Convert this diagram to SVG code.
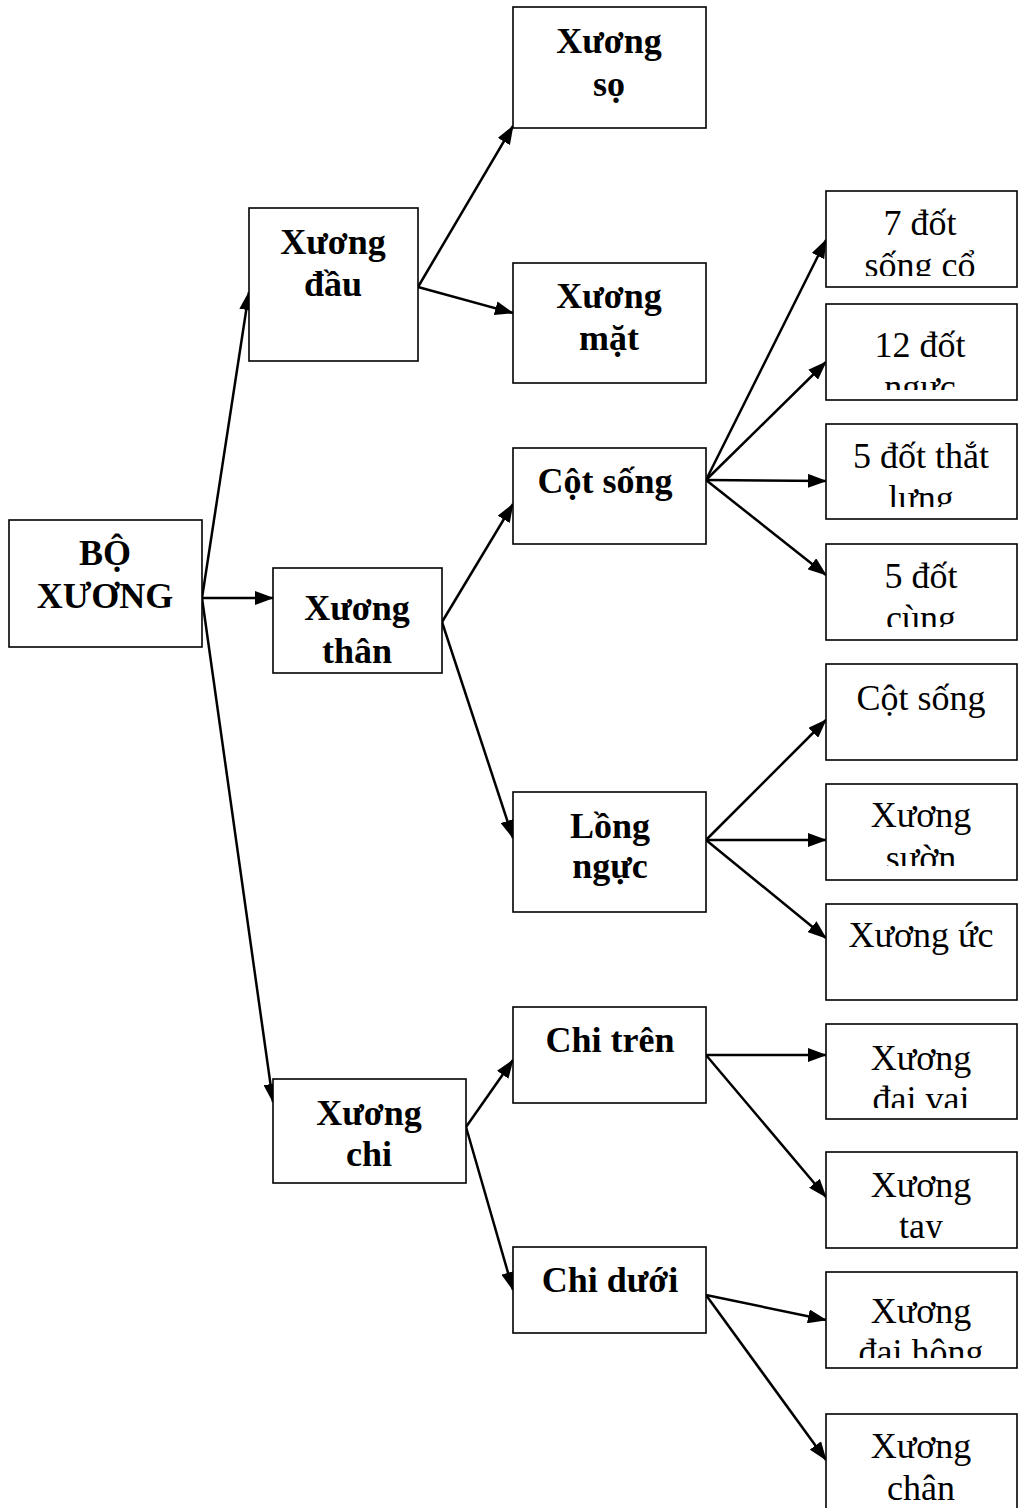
<svg xmlns="http://www.w3.org/2000/svg" width="1018" height="1508" viewBox="0 0 1018 1508">
  <style>
    .box { fill: #ffffff; stroke: #000000; stroke-width: 1.6; }
    .link { fill: none; stroke: #000000; stroke-width: 2.5; marker-end: url(#arrow); }
    .b { font-family: "Liberation Serif", "Times New Roman", serif; font-weight: bold; font-size: 36px; text-anchor: middle; fill: #000; }
    .r { font-family: "Liberation Serif", "Times New Roman", serif; font-size: 36px; text-anchor: middle; fill: #000; }
  </style>
  <defs>
    <marker id="arrow" viewBox="0 0 19 14" refX="18" refY="7" markerWidth="19" markerHeight="14" markerUnits="userSpaceOnUse" orient="auto">
      <path d="M0,0 L19,7 L0,14 Z" fill="#000"/>
    </marker>
    <clipPath id="c-co" clipPathUnits="userSpaceOnUse"><rect x="827" y="192" width="189" height="84"/></clipPath>
    <clipPath id="c-nguc" clipPathUnits="userSpaceOnUse"><rect x="827" y="305" width="189" height="85"/></clipPath>
    <clipPath id="c-lung" clipPathUnits="userSpaceOnUse"><rect x="827" y="425" width="189" height="82"/></clipPath>
    <clipPath id="c-cung" clipPathUnits="userSpaceOnUse"><rect x="827" y="545" width="189" height="82"/></clipPath>
    <clipPath id="c-suon" clipPathUnits="userSpaceOnUse"><rect x="827" y="785" width="189" height="81"/></clipPath>
    <clipPath id="c-vai" clipPathUnits="userSpaceOnUse"><rect x="827" y="1025" width="189" height="83"/></clipPath>
    <clipPath id="c-tay" clipPathUnits="userSpaceOnUse"><rect x="827" y="1153" width="189" height="85"/></clipPath>
    <clipPath id="c-hong" clipPathUnits="userSpaceOnUse"><rect x="827" y="1273" width="189" height="85"/></clipPath>
  </defs>

  <rect width="1018" height="1508" fill="#ffffff"/>

  <!-- arrows between boxes -->
  <g id="connectors">
    <line class="link" x1="202" y1="598" x2="249" y2="292"/>
    <line class="link" x1="202" y1="598" x2="273" y2="598"/>
    <line class="link" x1="202" y1="598" x2="273" y2="1102"/>
    <line class="link" x1="418" y1="287" x2="513" y2="126"/>
    <line class="link" x1="418" y1="287" x2="513" y2="313"/>
    <line class="link" x1="442" y1="622" x2="513" y2="504"/>
    <line class="link" x1="442" y1="622" x2="513" y2="838"/>
    <line class="link" x1="706" y1="480" x2="826" y2="240"/>
    <line class="link" x1="706" y1="480" x2="826" y2="362"/>
    <line class="link" x1="706" y1="480" x2="826" y2="481"/>
    <line class="link" x1="706" y1="480" x2="826" y2="575"/>
    <line class="link" x1="706" y1="840" x2="826" y2="720"/>
    <line class="link" x1="706" y1="840" x2="826" y2="840"/>
    <line class="link" x1="706" y1="840" x2="826" y2="938"/>
    <line class="link" x1="466" y1="1127" x2="513" y2="1060"/>
    <line class="link" x1="466" y1="1127" x2="513" y2="1290"/>
    <line class="link" x1="706" y1="1055" x2="826" y2="1055"/>
    <line class="link" x1="706" y1="1055" x2="826" y2="1197"/>
    <line class="link" x1="706" y1="1295" x2="826" y2="1320"/>
    <line class="link" x1="706" y1="1295" x2="826" y2="1460"/>
  </g>

  <!-- root -->
  <g id="bo-xuong">
    <rect class="box" x="9" y="520" width="193" height="127"/>
    <text class="b" x="105" y="565">BỘ</text>
    <text class="b" x="105" y="608">XƯƠNG</text>
  </g>

  <!-- level 1 -->
  <g id="xuong-dau">
    <rect class="box" x="249" y="208" width="169" height="153"/>
    <text class="b" x="333" y="254">Xương</text>
    <text class="b" x="333" y="296">đầu</text>
  </g>
  <g id="xuong-than">
    <rect class="box" x="273" y="568" width="169" height="105"/>
    <text class="b" x="357" y="620">Xương</text>
    <text class="b" x="357" y="663">thân</text>
  </g>
  <g id="xuong-chi">
    <rect class="box" x="273" y="1079" width="193" height="104"/>
    <text class="b" x="369" y="1125">Xương</text>
    <text class="b" x="369" y="1166">chi</text>
  </g>

  <!-- level 2 -->
  <g id="xuong-so">
    <rect class="box" x="513" y="7" width="193" height="121"/>
    <text class="b" x="609" y="53">Xương</text>
    <text class="b" x="609" y="96">sọ</text>
  </g>
  <g id="xuong-mat">
    <rect class="box" x="513" y="263" width="193" height="120"/>
    <text class="b" x="609" y="308">Xương</text>
    <text class="b" x="609" y="350">mặt</text>
  </g>
  <g id="cot-song">
    <rect class="box" x="513" y="448" width="193" height="96"/>
    <text class="b" x="605" y="493">Cột sống</text>
  </g>
  <g id="long-nguc">
    <rect class="box" x="513" y="792" width="193" height="120"/>
    <text class="b" x="610" y="838">Lồng</text>
    <text class="b" x="610" y="878">ngực</text>
  </g>
  <g id="chi-tren">
    <rect class="box" x="513" y="1007" width="193" height="96"/>
    <text class="b" x="610" y="1052">Chi trên</text>
  </g>
  <g id="chi-duoi">
    <rect class="box" x="513" y="1247" width="193" height="86"/>
    <text class="b" x="610" y="1292">Chi dưới</text>
  </g>

  <!-- level 3 -->
  <g id="dot-song-co">
    <rect class="box" x="826" y="191" width="191" height="96"/>
    <g clip-path="url(#c-co)">
      <text class="r" x="920" y="235">7 đốt</text>
      <text class="r" x="920" y="277">sống cổ</text>
    </g>
  </g>
  <g id="dot-nguc">
    <rect class="box" x="826" y="304" width="191" height="96"/>
    <g clip-path="url(#c-nguc)">
      <text class="r" x="920" y="357">12 đốt</text>
      <text class="r" x="920" y="399">ngực</text>
    </g>
  </g>
  <g id="dot-that-lung">
    <rect class="box" x="826" y="424" width="191" height="95"/>
    <g clip-path="url(#c-lung)">
      <text class="r" x="921" y="468">5 đốt thắt</text>
      <text class="r" x="921" y="510">lưng</text>
    </g>
  </g>
  <g id="dot-cung">
    <rect class="box" x="826" y="544" width="191" height="96"/>
    <g clip-path="url(#c-cung)">
      <text class="r" x="921" y="588">5 đốt</text>
      <text class="r" x="921" y="630">cùng</text>
    </g>
  </g>
  <g id="cot-song-2">
    <rect class="box" x="826" y="664" width="191" height="96"/>
    <text class="r" x="921" y="710">Cột sống</text>
  </g>
  <g id="xuong-suon">
    <rect class="box" x="826" y="784" width="191" height="96"/>
    <g clip-path="url(#c-suon)">
      <text class="r" x="921" y="827">Xương</text>
      <text class="r" x="921" y="870">sườn</text>
    </g>
  </g>
  <g id="xuong-uc">
    <rect class="box" x="826" y="904" width="191" height="96"/>
    <text class="r" x="921" y="947">Xương ức</text>
  </g>
  <g id="dai-vai">
    <rect class="box" x="826" y="1024" width="191" height="95"/>
    <g clip-path="url(#c-vai)">
      <text class="r" x="921" y="1070">Xương</text>
      <text class="r" x="921" y="1111">đai vai</text>
    </g>
  </g>
  <g id="xuong-tay">
    <rect class="box" x="826" y="1152" width="191" height="96"/>
    <g clip-path="url(#c-tay)">
      <text class="r" x="921" y="1197">Xương</text>
      <text class="r" x="921" y="1238">tay</text>
    </g>
  </g>
  <g id="dai-hong">
    <rect class="box" x="826" y="1272" width="191" height="96"/>
    <g clip-path="url(#c-hong)">
      <text class="r" x="921" y="1323">Xương</text>
      <text class="r" x="921" y="1364">đai hông</text>
    </g>
  </g>
  <g id="xuong-chan">
    <rect class="box" x="826" y="1414" width="191" height="120"/>
    <text class="r" x="921" y="1458">Xương</text>
    <text class="r" x="921" y="1500">chân</text>
  </g>
</svg>
